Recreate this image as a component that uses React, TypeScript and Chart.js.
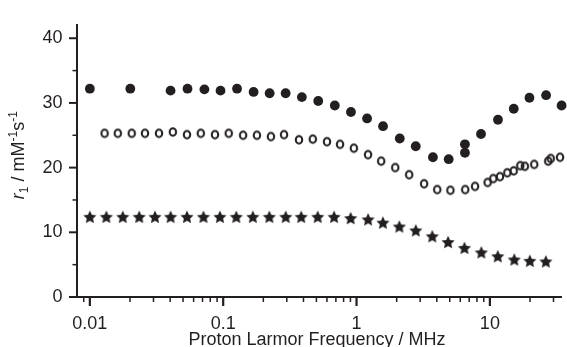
import React, { useEffect, useRef } from 'react';
import { Chart, registerables } from 'chart.js';

Chart.register(...registerables);

const INK = '#231f20';
const FONT = "'Liberation Sans', Arial, Helvetica, sans-serif";

// Filled circles
const filledFreq = [0.01, 0.0201, 0.0403, 0.054, 0.0723, 0.0955, 0.127, 0.169, 0.223, 0.294, 0.389, 0.516, 0.687, 0.908, 1.2, 1.58, 2.11, 2.78, 3.74, 4.91, 6.5, 6.5, 8.58, 11.5, 15.1, 19.8, 26.4, 34.5];
const filledR1 = [32.2, 32.2, 31.9, 32.2, 32.1, 31.9, 32.2, 31.7, 31.5, 31.5, 30.9, 30.3, 29.6, 28.6, 27.6, 26.4, 24.5, 23.3, 21.6, 21.3, 23.6, 22.3, 25.2, 27.4, 29.1, 30.8, 31.2, 29.6];

// Open circles
const openFreq = [0.0129, 0.0162, 0.0206, 0.0259, 0.033, 0.0419, 0.0535, 0.0679, 0.0868, 0.11, 0.141, 0.179, 0.228, 0.286, 0.37, 0.47, 0.6, 0.752, 0.955, 1.22, 1.53, 1.95, 2.48, 3.21, 4.03, 5.06, 6.53, 7.74, 9.61, 10.6, 11.9, 13.5, 15.1, 16.9, 18.3, 21.5, 27.4, 28.6, 33.6];
const openR1 = [25.3, 25.3, 25.3, 25.3, 25.3, 25.5, 25.1, 25.3, 25.1, 25.3, 25.0, 25.0, 24.8, 25.1, 24.3, 24.4, 24.0, 23.6, 23.0, 22.0, 21.0, 20.0, 18.9, 17.5, 16.6, 16.5, 16.6, 17.1, 17.7, 18.3, 18.6, 19.2, 19.5, 20.3, 20.2, 20.5, 21.0, 21.4, 21.6];

// Stars
const starFreq = [0.01, 0.0133, 0.01765, 0.02346, 0.0308, 0.0403, 0.0535, 0.0711, 0.0945, 0.1254, 0.1668, 0.2218, 0.2944, 0.3848, 0.5115, 0.679, 0.903, 1.221, 1.577, 2.094, 2.783, 3.7, 4.86, 6.45, 8.63, 11.46, 15.24, 19.95, 26.3];
const starR1 = [12.4, 12.4, 12.4, 12.4, 12.4, 12.4, 12.4, 12.4, 12.4, 12.4, 12.4, 12.4, 12.4, 12.4, 12.4, 12.4, 12.2, 12.0, 11.5, 10.9, 10.3, 9.4, 8.5, 7.6, 6.9, 6.3, 5.8, 5.6, 5.5];

// Axes
const xMajorTicks = [0.01, 0.1, 1, 10];
const xTickLabels = ['0.01', '0.1', '1', '10'];
const yMajorTicks = [0, 10, 20, 30, 40];
const yMinorTicks = [5, 15, 25, 35];
const xMin = 0.00801;
const xMax = 34.15;
const yMin = 0;
const yMax = 42;
const xTitle = 'Proton Larmor Frequency / MHz';

function makeRing(): HTMLCanvasElement {
  const c = document.createElement('canvas');
  c.width = 12;
  c.height = 12;
  const g = c.getContext('2d')!;
  g.strokeStyle = INK;
  g.lineWidth = 2.1;
  g.beginPath();
  g.ellipse(6, 6, 3.2, 3.8, 0, 0, Math.PI * 2);
  g.stroke();
  return c;
}

function makeStar(): HTMLCanvasElement {
  const c = document.createElement('canvas');
  c.width = 16;
  c.height = 16;
  const g = c.getContext('2d')!;
  const R = 6.9;
  const r = R * 0.48;
  const cx = 8;
  const cy = 8 + 0.0955 * R;
  g.fillStyle = INK;
  g.beginPath();
  for (let i = 0; i < 10; i++) {
    const a = -Math.PI / 2 + (i * Math.PI) / 5;
    const rad = i % 2 === 0 ? R : r;
    const px = cx + rad * Math.cos(a);
    const py = cy + rad * Math.sin(a);
    if (i === 0) g.moveTo(px, py);
    else g.lineTo(px, py);
  }
  g.closePath();
  g.fill();
  return c;
}

const decorPlugin = {
  id: 'decor',
  afterDraw(chart: any) {
    const ctx: CanvasRenderingContext2D = chart.ctx;
    const xs = chart.scales.x;
    const ys = chart.scales.y;
    const axisY = chart.chartArea.bottom;
    const axisX = chart.chartArea.left;
    ctx.save();
    ctx.strokeStyle = INK;
    ctx.lineCap = 'butt';
    const line = (x1: number, y1: number, x2: number, y2: number, w: number) => {
      ctx.lineWidth = w;
      ctx.beginPath();
      ctx.moveTo(x1, y1);
      ctx.lineTo(x2, y2);
      ctx.stroke();
    };
    // x ticks
    for (let e = -3; e <= 1; e++) {
      for (let k = 1; k <= 9; k++) {
        const v = k * Math.pow(10, e);
        if (v < xMin || v > xMax) continue;
        const px = xs.getPixelForValue(v);
        if (k === 1) line(px, axisY, px, axisY + 9, 2.2);
        else line(px, axisY, px, axisY + 5, 1.5);
      }
    }
    // y ticks
    yMajorTicks.forEach((v) => {
      const py = ys.getPixelForValue(v);
      line(axisX - 8, py, axisX, py, 2);
    });
    yMinorTicks.forEach((v) => {
      const py = ys.getPixelForValue(v);
      line(axisX - 4.5, py, axisX, py, 1.5);
    });

    // x title
    ctx.fillStyle = INK;
    ctx.font = `18px ${FONT}`;
    ctx.textAlign = 'center';
    ctx.textBaseline = 'alphabetic';
    ctx.fillText(xTitle, 317, 344.5);

    // y title (rich text, rotated)
    const segs = [
      { t: 'r', f: `italic 18px ${FONT}`, dy: 0 },
      { t: '1', f: `12px ${FONT}`, dy: 4 },
      { t: ' / mM', f: `18px ${FONT}`, dy: 0 },
      { t: '-1', f: `12px ${FONT}`, dy: -7.5 },
      { t: 's', f: `18px ${FONT}`, dy: 0 },
      { t: '-1', f: `12px ${FONT}`, dy: -7.5 },
    ];
    let total = 0;
    const widths = segs.map((s) => {
      ctx.font = s.f;
      const w = ctx.measureText(s.t).width;
      total += w;
      return w;
    });
    const cy = (chart.chartArea.top + chart.chartArea.bottom) / 2 - 6;
    ctx.translate(24, cy);
    ctx.rotate(-Math.PI / 2);
    ctx.textAlign = 'left';
    let cur = -total / 2;
    segs.forEach((s, i) => {
      ctx.font = s.f;
      ctx.fillText(s.t, cur, s.dy);
      cur += widths[i];
    });
    ctx.restore();
  },
};

export default function App() {
  const ref = useRef<HTMLCanvasElement>(null);

  useEffect(() => {
    document.body.style.margin = '0';
    const canvas = ref.current;
    if (!canvas) return;
    const ring = makeRing();
    const star = makeStar();
    const chart = new Chart(canvas, {
      type: 'scatter',
      data: {
        datasets: [
          {
            label: 'filled',
            data: filledFreq.map((x, i) => ({ x, y: filledR1[i] })),
            pointStyle: 'circle',
            pointRadius: 4.9,
            pointBackgroundColor: INK,
            pointBorderWidth: 0,
            pointBorderColor: INK,
            clip: false,
          },
          {
            label: 'open',
            data: openFreq.map((x, i) => ({ x, y: openR1[i] })),
            pointStyle: ring,
            pointRadius: 4,
            clip: false,
          },
          {
            label: 'star',
            data: starFreq.map((x, i) => ({ x, y: starR1[i] })),
            pointStyle: star,
            pointRadius: 5,
            clip: false,
          },
        ],
      },
      options: {
        animation: false,
        responsive: false,
        events: [],
        layout: { padding: { top: 13, left: 0, right: 0, bottom: 0 } },
        plugins: {
          legend: { display: false },
          tooltip: { enabled: false },
          title: { display: false },
        },
        scales: {
          x: {
            type: 'logarithmic',
            position: 'bottom',
            min: xMin,
            max: xMax,
            bounds: 'data',
            grid: { display: false, drawTicks: false },
            border: { display: true, color: INK, width: 2 },
            afterBuildTicks: (scale: any) => {
              scale.ticks = xMajorTicks.map((v) => ({ value: v, major: true }));
            },
            afterFit: (scale: any) => {
              scale.height = 50;
            },
            ticks: {
              color: INK,
              font: { family: FONT, size: 18 },
              padding: 16,
              maxRotation: 0,
              autoSkip: false,
              callback: (v: any) => {
                const i = xMajorTicks.findIndex((t) => Math.abs(t - Number(v)) < 1e-9);
                return i >= 0 ? xTickLabels[i] : '';
              },
            },
          },
          y: {
            type: 'linear',
            min: yMin,
            max: yMax,
            bounds: 'data',
            grid: { display: false, drawTicks: false },
            border: { display: true, color: INK, width: 2 },
            afterBuildTicks: (scale: any) => {
              scale.ticks = yMajorTicks.map((v) => ({ value: v }));
            },
            afterFit: (scale: any) => {
              scale.width = 77;
            },
            ticks: {
              color: INK,
              font: { family: FONT, size: 18 },
              padding: 14.5,
              autoSkip: false,
              callback: (v: any) => String(v),
            },
          },
        },
      },
      plugins: [decorPlugin],
    });
    return () => chart.destroy();
  }, []);

  return (
    <div style={{ width: 567, height: 347, position: 'relative', background: '#fff' }}>
      <canvas ref={ref} width={567} height={347} style={{ display: 'block' }} />
    </div>
  );
}
